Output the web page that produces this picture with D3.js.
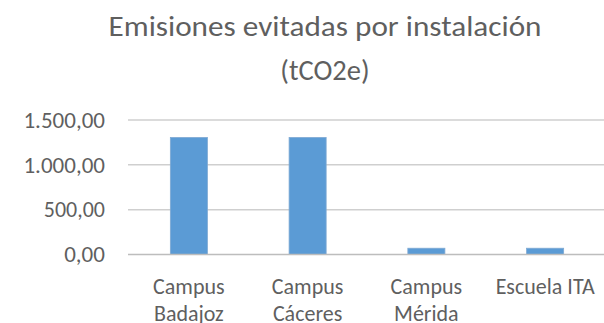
<!DOCTYPE html>
<html>
<head>
<meta charset="utf-8">
<script src="https://cdn.jsdelivr.net/npm/d3@7"></script>
<style>
  html, body { margin: 0; padding: 0; background: #fff; }
  svg { display: block; }
  text { font-family: Carlito, Lato, "Open Sans", sans-serif; fill: #5f5f5f; }
</style>
</head>
<body>
<div id="chart"></div>
<script>
// Emisiones evitadas (tCO2e) por instalación
const categories = [["Campus", "Badajoz"], ["Campus", "Cáceres"], ["Campus", "Mérida"], ["Escuela ITA"]];
const values = [1305, 1305, 70, 70];
const tickValues = [0, 500, 1000, 1500];
const titleLines = ["Emisiones evitadas por instalación", "(tCO2e)"];

const W = 604, H = 323;
const plot = { left: 129.5, right: 604.5, top: 120, bottom: 254.5 };

const svg = d3.select("#chart").append("svg").attr("width", W).attr("height", H);

const keys = categories.map(c => c.join(" "));
const x = d3.scaleBand().domain(keys).range([plot.left, plot.right])
  .paddingInner(0.688).paddingOuter(0.344);
const y = d3.scaleLinear().domain([0, 1500]).range([plot.bottom, plot.top]);

// Spanish number format: 1.500,00
const fmt = v => d3.format(",.2f")(v).replace(/,/g, "#").replace(".", ",").replace(/#/g, ".");

// Title
svg.append("g").selectAll("text").data(titleLines).join("text")
  .attr("x", 325).attr("y", (d, i) => 36 + i * 44)
  .attr("text-anchor", "middle")
  .style("font-size", "28.5px")
  .attr("textLength", (d, i) => i === 0 ? 433 : null)
  .attr("lengthAdjust", "spacingAndGlyphs")
  .text(d => d);

// Gridlines
svg.append("g").selectAll("line").data(tickValues.filter(v => v > 0)).join("line")
  .attr("x1", 128).attr("x2", W)
  .attr("y1", d => y(d)).attr("y2", d => y(d))
  .attr("stroke", "#cfcfcf").attr("stroke-width", 1.5);

// Y tick labels
svg.append("g").selectAll("text").data(tickValues).join("text")
  .attr("x", 105).attr("y", d => y(d))
  .attr("dy", "0.35em")
  .attr("text-anchor", "end")
  .style("font-size", "22px")
  .attr("textLength", d => fmt(d).length * 10.2)
  .attr("lengthAdjust", "spacingAndGlyphs")
  .text(fmt);

// Bars
svg.append("g").selectAll("rect").data(values).join("rect")
  .attr("x", (d, i) => x(keys[i]))
  .attr("width", x.bandwidth())
  .attr("y", d => y(d))
  .attr("height", d => y(0) - y(d))
  .attr("fill", "#5b9bd5")
  .attr("stroke", "#7fa9d3").attr("stroke-width", 0.8);

// X axis line
svg.append("line")
  .attr("x1", 128).attr("x2", W)
  .attr("y1", y(0)).attr("y2", y(0))
  .attr("stroke", "#bdbdbd").attr("stroke-width", 1.5);

// Category labels (two lines, the second runs to the bottom edge)
const lab = svg.append("g").selectAll("text").data(categories).join("text")
  .attr("text-anchor", "middle")
  .style("font-size", "22px");
lab.selectAll("tspan").data((d, i) => d.map(s => ({ s, i }))).join("tspan")
  .attr("x", d => x(keys[d.i]) + x.bandwidth() / 2)
  .attr("y", (d, j) => 294 + j * 27)
  .text(d => d.s);
</script>
</body>
</html>
